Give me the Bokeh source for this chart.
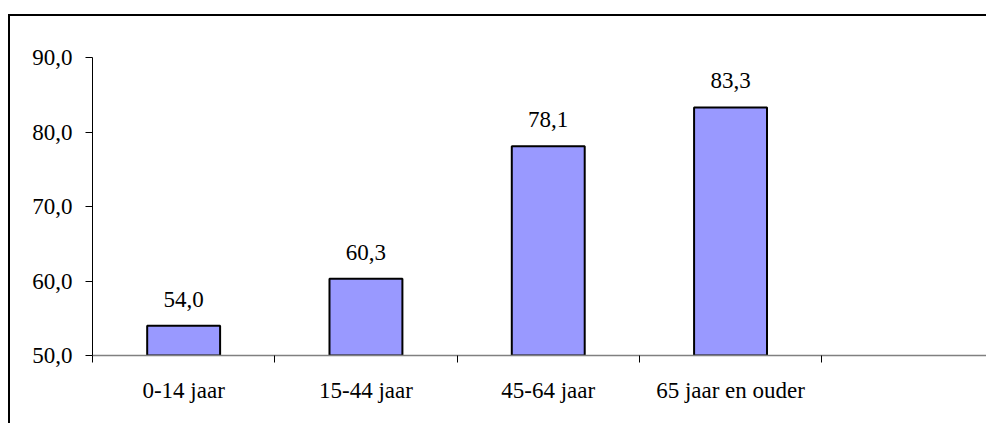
from bokeh.plotting import figure
from bokeh.models import FixedTicker, Range1d, ColumnDataSource
from bokeh.core.properties import value
from bokeh.embed import file_html
from bokeh.resources import INLINE

categories = ["0-14 jaar", "15-44 jaar", "45-64 jaar", "65 jaar en ouder"]
values = [54.0, 60.3, 78.1, 83.3]
value_labels = ["54,0", "60,3", "78,1", "83,3"]
y_ticks = [50, 60, 70, 80, 90]
y_tick_labels = ["50,0", "60,0", "70,0", "80,0", "90,0"]

FONT = "'Liberation Serif', 'Times New Roman', serif"
centers = [i + 0.5 for i in range(len(categories))]
boundaries = [i for i in range(len(categories) + 2)]

p = figure(width=978, height=409, output_backend="svg", toolbar_location=None,
           x_range=Range1d(0, 4.915), y_range=Range1d(50, 90),
           min_border_left=82, min_border_right=0, min_border_top=41, min_border_bottom=70)
p.margin = (14, 0, 0, 8)
p.styles = {"border-top": "2px solid black", "border-left": "2px solid black"}
p.outline_line_color = None
p.xgrid.visible = False
p.ygrid.visible = False
p.background_fill_color = "white"
p.border_fill_color = "white"

src = ColumnDataSource(dict(x=centers, top=values, lab=value_labels))
p.vbar(x="x", top="top", bottom=50, width=0.4, source=src,
       fill_color="#9999FF", line_color="black", line_width=2)
p.text(x="x", y="top", text="lab", source=src, y_offset=-19,
       text_align="center", text_baseline="bottom",
       text_font=value(FONT), text_font_size="23px", text_color="black")

xa = p.xaxis[0]
xa.ticker = FixedTicker(ticks=centers, minor_ticks=boundaries)
xa.major_label_overrides = {c: lab for c, lab in zip(centers, categories)}
xa.major_tick_out = 0
xa.major_tick_in = 0
xa.minor_tick_out = 7
xa.minor_tick_in = 0
xa.minor_tick_line_color = "black"
xa.axis_line_color = "#808080"
xa.axis_line_width = 1.5
xa.major_label_standoff = 15
xa.major_label_text_font = FONT
xa.major_label_text_font_size = "23px"
xa.major_label_text_color = "black"

ya = p.yaxis[0]
ya.ticker = FixedTicker(ticks=y_ticks, minor_ticks=[])
ya.major_label_overrides = {t: lab for t, lab in zip(y_ticks, y_tick_labels)}
ya.major_tick_out = 7
ya.major_tick_in = 0
ya.major_tick_line_color = "black"
ya.minor_tick_out = 0
ya.minor_tick_in = 0
ya.axis_line_color = "black"
ya.axis_line_width = 1
ya.major_label_standoff = 13
ya.major_label_text_font = FONT
ya.major_label_text_font_size = "23px"
ya.major_label_text_color = "black"

open("out.html", "w").write(file_html(p, INLINE))
